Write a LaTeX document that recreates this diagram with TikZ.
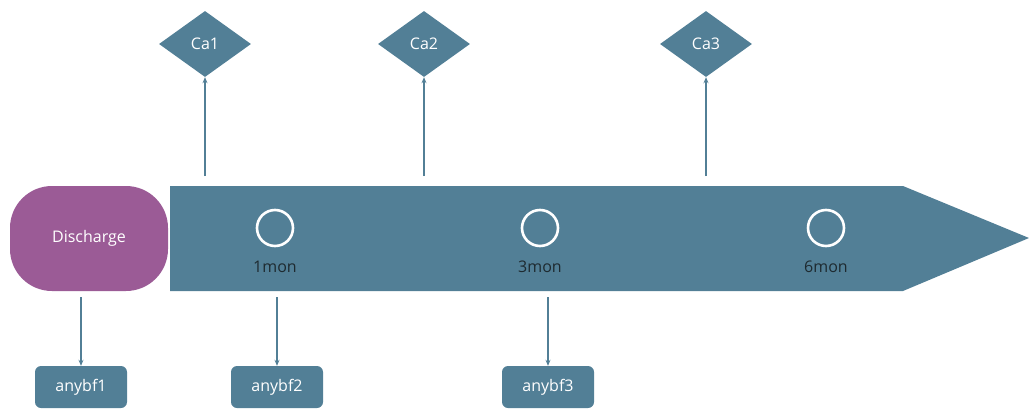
\documentclass[tikz,border=0pt]{standalone}
\usepackage{fontspec}
\setmainfont{Open Sans}
\usetikzlibrary{shapes.geometric,arrows.meta}
\definecolor{teal}{HTML}{527F96}
\definecolor{plum}{HTML}{9B5B96}
\definecolor{darktxt}{HTML}{1E2A30}
\tikzset{
  lbl/.style={font=\fontsize{16}{18}\selectfont},
  conn/.style={draw=teal, line width=1.1pt, -{Stealth[length=6pt,width=5pt]}},
  cabox/.style={diamond, fill=teal, inner sep=0pt, minimum width=92pt, minimum height=66pt, text=white, lbl},
  bfbox/.style={rectangle, rounded corners=6pt, fill=teal, minimum width=92pt, minimum height=42pt, inner sep=0pt, text=white, lbl},
  ring/.style={circle, draw=white, line width=2.6pt, minimum size=36pt, inner sep=0pt},
  monlbl/.style={text=darktxt, lbl, inner sep=0pt}
}
\begin{document}
\begin{tikzpicture}[x=1pt,y=-1pt]
\useasboundingbox (0,0) rectangle (1029,410);
% timeline arrow
\fill[teal] (170,186) -- (903,186) -- (1029,238) -- (903,291) -- (170,291) -- cycle;
% discharge
\node[rectangle, rounded corners=42pt, fill=plum, minimum width=158pt, minimum height=105pt, inner sep=0pt, text=white, lbl] (dis) at (89,238.5) {Discharge};
% rings and labels
\node[ring] (r1) at (275,228) {};
\node[ring] (r3) at (540,228) {};
\node[ring] (r6) at (826,228) {};
\node[monlbl] (l1) at (275,267) {1mon};
\node[monlbl] (l3) at (540,267) {3mon};
\node[monlbl] (l6) at (826,267) {6mon};
% diamonds
\node[cabox] (ca1) at (205,44) {Ca1};
\node[cabox] (ca2) at (424,44) {Ca2};
\node[cabox] (ca3) at (706,44) {Ca3};
\coordinate (s1) at (205,176);
\coordinate (s2) at (424,176);
\coordinate (s3) at (706,176);
\draw[conn] (s1) -- (ca1.south);
\draw[conn] (s2) -- (ca2.south);
\draw[conn] (s3) -- (ca3.south);
% bottom boxes
\node[bfbox] (b1) at (81,387) {anybf1};
\node[bfbox] (b2) at (277,387) {anybf2};
\node[bfbox] (b3) at (548,387) {anybf3};
\coordinate (d1) at (81,297);
\coordinate (d2) at (277,297);
\coordinate (d3) at (548,297);
\draw[conn] (d1) -- (b1.north);
\draw[conn] (d2) -- (b2.north);
\draw[conn] (d3) -- (b3.north);
\end{tikzpicture}
\end{document}
